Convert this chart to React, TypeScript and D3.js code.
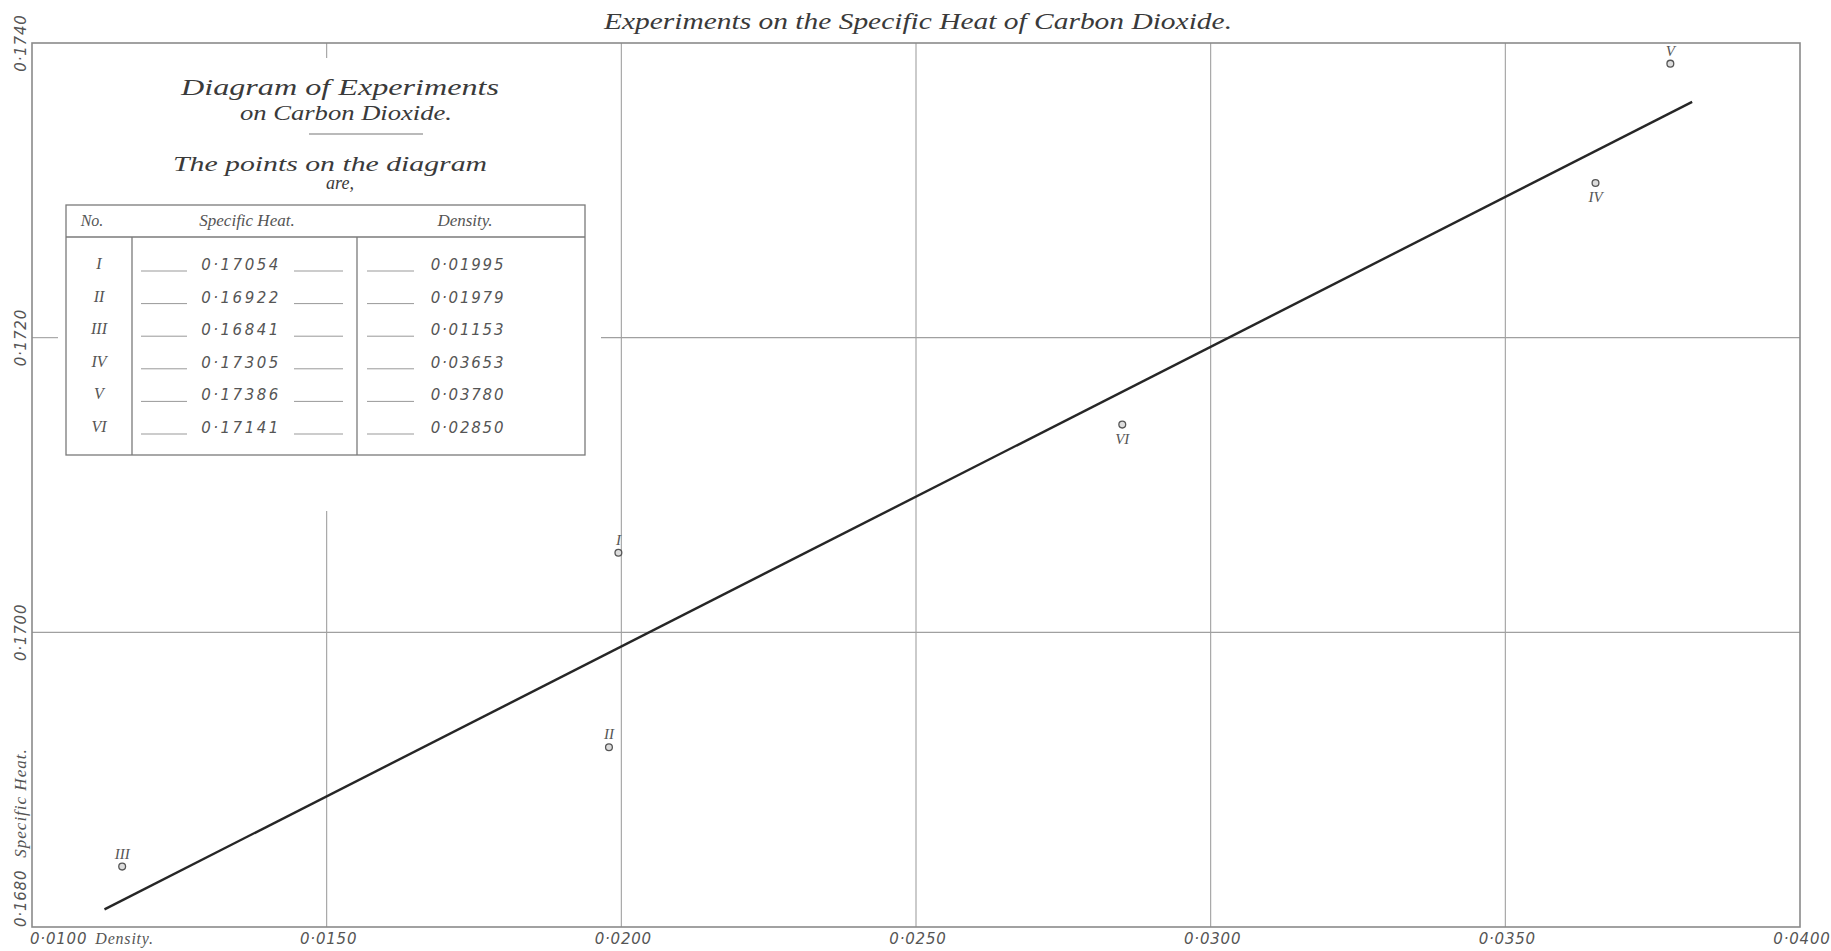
import React from "react";
import * as d3 from "d3";

const pointIds = ["I", "II", "III", "IV", "V", "VI"];
const specificHeat = [0.17054, 0.16922, 0.16841, 0.17305, 0.17386, 0.17141];
const density = [0.01995, 0.01979, 0.01153, 0.03653, 0.0378, 0.0285];
const labelBelow = [false, false, false, true, false, true];

const fitDensity = [0.01123, 0.03817];
const fitHeat = [0.16812, 0.1736];

const xTicks = [0.01, 0.015, 0.02, 0.025, 0.03, 0.035, 0.04];
const yTicks = [0.168, 0.17, 0.172, 0.174];

const W = 1831;
const H = 951;
const L = 32, R = 1800, T = 43, B = 927;

const x = d3.scaleLinear().domain([0.01, 0.04]).range([L, R]);
const y = d3.scaleLinear().domain([0.168, 0.174]).range([B, T]);

const dot = (s: string) => s.replace(".", "\u00b7");
const fmt4 = (v: number) => dot(d3.format(".4f")(v));
const fmt5 = (v: number) => dot(d3.format(".5f")(v));

const FONT = "'Liberation Serif', 'DejaVu Serif', serif";
const NUMFONT = "'DejaVu Sans', 'Liberation Sans', sans-serif";
const INK = "#3a3a3a";
const GRID = "#a0a0a0";

export default function App() {
  const line = d3
    .line<number>()
    .x((_, i) => x(fitDensity[i]))
    .y((_, i) => y(fitHeat[i]));

  // table geometry
  const tL = 66, tR = 585, tT = 205, tHd = 237, tB = 455;
  const c1 = 132, c2 = 357;
  const rowY = (i: number) => 264 + i * 32.6;

  return (
    <svg
      width={W}
      height={H}
      style={{ position: "absolute", left: 0, top: 0, background: "#fff" }}
      fontFamily={FONT}
    >
      <rect x={0} y={0} width={W} height={H} fill="#fff" />
      {/* title */}
      <text
        x={918}
        y={29}
        textAnchor="middle"
        fontSize={23}
        fontStyle="italic"
        fill={INK}
        textLength={628}
        lengthAdjust="spacingAndGlyphs"
      >
        Experiments on the Specific Heat of Carbon Dioxide.
      </text>

      {/* grid lines */}
      <g stroke={GRID} strokeWidth={1.1} fill="none">
        {xTicks.slice(1, -1).map((t) =>
          t === 0.015 ? (
            <g key={t}>
              <line x1={x(t)} x2={x(t)} y1={T} y2={58} />
              <line x1={x(t)} x2={x(t)} y1={511} y2={B} />
            </g>
          ) : (
            <line key={t} x1={x(t)} x2={x(t)} y1={T} y2={B} />
          )
        )}
        {yTicks.slice(1, -1).map((t) =>
          t === 0.172 ? (
            <g key={t}>
              <line x1={L} x2={58} y1={y(t)} y2={y(t)} />
              <line x1={601} x2={R} y1={y(t)} y2={y(t)} />
            </g>
          ) : (
            <line key={t} x1={L} x2={R} y1={y(t)} y2={y(t)} />
          )
        )}
      </g>

      {/* frame */}
      <rect x={L} y={T} width={R - L} height={B - T} fill="none" stroke="#8a8a8a" strokeWidth={1.6} />

      {/* fitted line */}
      <path d={line([0, 1]) || ""} stroke="#262626" strokeWidth={2.4} fill="none" />

      {/* points */}
      {pointIds.map((id, i) => {
        const px = x(density[i]);
        const py = y(specificHeat[i]);
        return (
          <g key={id}>
            <circle cx={px} cy={py} r={3.4} fill="#ddd" stroke="#555" strokeWidth={1.3} />
            <text
              x={px}
              y={labelBelow[i] ? py + 19 : py - 8}
              textAnchor="middle"
              fontSize={15}
              fontStyle="italic"
              fill="#555"
            >
              {id}
            </text>
          </g>
        );
      })}

      {/* x tick labels */}
      {xTicks.map((t, i) => (
        <text
          key={t}
          x={i === 0 ? x(t) - 2 : x(t) + 2}
          y={944}
          textAnchor={i === 0 ? "start" : "middle"}
          fontSize={15}
          fontStyle="italic"
          fontFamily={NUMFONT}
          letterSpacing={0.8}
          fill="#555"
        >
          {fmt4(t)}
          {i === 0 ? (
            <tspan fontFamily={FONT} fontSize={16} dx={8}>
              Density.
            </tspan>
          ) : null}
        </text>
      ))}

      {/* y tick labels */}
      {yTicks.map((t, i) => (
        <text
          key={t}
          transform={`translate(26, ${i === 0 ? B : y(t)}) rotate(-90)`}
          textAnchor={i === 0 ? "start" : "middle"}
          fontSize={15}
          fontStyle="italic"
          fontFamily={NUMFONT}
          letterSpacing={0.8}
          fill="#555"
        >
          {fmt4(t)}
          {i === 0 ? (
            <tspan fontFamily={FONT} fontSize={17} dx={12} letterSpacing={1}>
              Specific Heat.
            </tspan>
          ) : null}
        </text>
      ))}

      {/* legend heading */}
      <g fill={INK} fontStyle="italic">
        <text x={340} y={95} textAnchor="middle" fontSize={24} textLength={318} lengthAdjust="spacingAndGlyphs">
          Diagram of Experiments
        </text>
        <text x={346} y={120} textAnchor="middle" fontSize={22} textLength={212} lengthAdjust="spacingAndGlyphs">
          on Carbon Dioxide.
        </text>
        <line x1={309} x2={423} y1={134} y2={134} stroke="#777" strokeWidth={1.2} />
        <text x={330} y={171} textAnchor="middle" fontSize={20} textLength={314} lengthAdjust="spacingAndGlyphs">
          The points on the diagram
        </text>
        <text x={340} y={189} textAnchor="middle" fontSize={18}>
          are,
        </text>
      </g>

      {/* table */}
      <g stroke="#7a7a7a" strokeWidth={1.3} fill="none">
        <rect x={tL} y={tT} width={tR - tL} height={tB - tT} />
        <line x1={tL} x2={tR} y1={tHd} y2={tHd} />
        <line x1={c1} x2={c1} y1={tHd} y2={tB} />
        <line x1={c2} x2={c2} y1={tHd} y2={tB} />
      </g>
      <g fill="#555" fontStyle="italic">
        <text x={92} y={226} textAnchor="middle" fontSize={16}>No.</text>
        <text x={247} y={226} textAnchor="middle" fontSize={17}>Specific Heat.</text>
        <text x={465} y={226} textAnchor="middle" fontSize={17}>Density.</text>
      </g>
      {pointIds.map((id, i) => {
        const ry = rowY(i);
        return (
          <g key={id}>
            <text x={99} y={ry + 5} textAnchor="middle" fontSize={16} fontStyle="italic" fill="#555">
              {id}
            </text>
            <g stroke="#999" strokeWidth={1}>
              <line x1={141} x2={187} y1={ry + 7} y2={ry + 7} />
              <line x1={294} x2={343} y1={ry + 7} y2={ry + 7} />
              <line x1={367} x2={414} y1={ry + 7} y2={ry + 7} />
            </g>
            <text
              x={241}
              y={ry + 6}
              textAnchor="middle"
              fontSize={15}
              fontStyle="italic"
              fontFamily={NUMFONT}
              letterSpacing={2.5}
              fill="#555"
            >
              {fmt5(specificHeat[i])}
            </text>
            <text
              x={468}
              y={ry + 6}
              textAnchor="middle"
              fontSize={15}
              fontStyle="italic"
              fontFamily={NUMFONT}
              letterSpacing={1.8}
              fill="#555"
            >
              {fmt5(density[i])}
            </text>
          </g>
        );
      })}
    </svg>
  );
}
